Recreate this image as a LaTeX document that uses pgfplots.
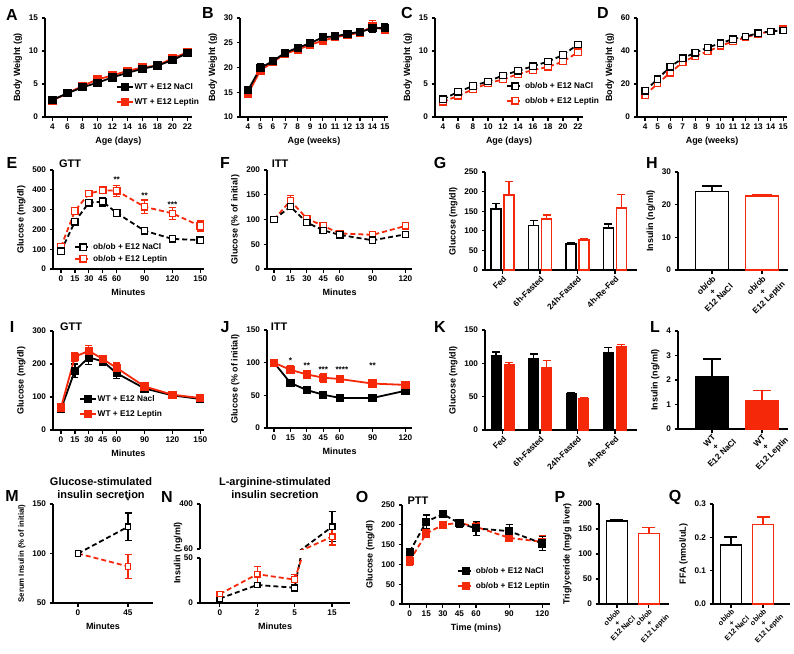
\documentclass[border=0pt]{standalone}
\usepackage{pgfplots}
\pgfplotsset{compat=1.18}
\usepackage{fontspec}
\setmainfont{Liberation Sans}
\definecolor{pr}{RGB}{245,40,10}
\newcommand\tfont{\fontsize{8.2}{9}\selectfont\bfseries}
\newcommand\rfont{\fontsize{8.3}{8.8}\selectfont\bfseries}
\newcommand\sfont{\fontsize{7.2}{7.8}\selectfont\bfseries}
\newcommand\lfont{\fontsize{9}{10}\selectfont\bfseries}
\newcommand\legfont{\fontsize{8.3}{9}\selectfont\bfseries}
\newcommand\letfont{\fontsize{16}{18}\selectfont\bfseries}
\newcommand\titfont{\fontsize{11}{12.5}\selectfont\bfseries}
\newlength\rlw
\newcommand\rl[3]{\settowidth\rlw{#1}\makebox[\rlw]{#1}\\\makebox[\rlw]{#2}\\\makebox[\rlw]{#3}}
\pgfplotsset{
 prism/.style={scale only axis, anchor=south west, enlargelimits=false,
   axis x line*=bottom, axis y line*=left, axis line style={line width=1.5pt,-},
   every tick/.style={line width=1.2pt,black}, tick align=outside, major tick length=3.5pt,
   tick label style={font=\tfont}, label style={font=\lfont}, clip=false, scaled ticks=false,
   /pgf/number format/assume math mode=true, /pgf/number format/1000 sep={},
   legend cell align=left,
   legend style={draw=none, fill=none, font=\legfont, inner sep=0pt, row sep=5pt, anchor=north west, nodes={inner sep=1pt}},
   legend image code/.code={\draw[mark repeat=2,mark phase=2,##1] plot coordinates {(0pt,0pt) (8pt,0pt) (16pt,0pt)};}},
 ls/.style={#1, line width=1.8pt, mark=square*, mark size=3.2pt, mark options={solid, fill=#1}},
 ld/.style={#1, line width=1.8pt, dash pattern=on 5pt off 3pt, mark=square*, mark size=3.2pt, mark options={solid, fill=white, line width=1.3pt}},
 eb/.style={error bars/.cd, y dir=both, y explicit, error bar style={line width=1.2pt, solid, #1}, error mark options={rotate=90, mark size=3.5pt, line width=1.2pt, solid, #1}},
 ebar/.style 2 args={error bars/.cd, y dir=plus, y explicit, error bar style={line width=1.4pt, solid, #1}, error mark options={rotate=90, mark size=#2, line width=1.4pt, solid, #1}},
 rotlab/.style={xticklabel style={rotate=45, anchor=north east, align=center, inner sep=1pt, font=\rfont}},
 rotlabs/.style={xticklabel style={rotate=45, anchor=north east, align=center, inner sep=0.5pt, font=\sfont}},
}
\begin{document}
\begin{tikzpicture}
\useasboundingbox (0pt,0pt) rectangle (794pt,-653pt);
% ---------------- A
\begin{axis}[prism, at={(45pt,-117pt)}, width=147pt, height=99pt, xmin=3, xmax=22.6, ymin=0, ymax=15,
  xtick={4,6,...,22}, ytick={0,5,10,15}, xlabel={Age (days)}, ylabel={Body Weight (g)},
  legend style={at={(0.48,0.35)}}, reverse legend]
\addplot[ls=pr, eb=pr] coordinates {(4,2.5)+-(0,0.2) (6,3.6)+-(0,0.2) (8,4.7)+-(0,0.3) (10,5.7)+-(0,0.3) (12,6.3)+-(0,0.3) (14,7.0)+-(0,0.3) (16,7.5)+-(0,0.3) (18,7.8)+-(0,0.3) (20,8.9)+-(0,0.3) (22,9.8)+-(0,0.3)};
\addlegendentry{WT + E12 Leptin}
\addplot[ls=black, eb=black] coordinates {(4,2.6)+-(0,0.2) (6,3.6)+-(0,0.2) (8,4.5)+-(0,0.3) (10,5.2)+-(0,0.3) (12,6.0)+-(0,0.3) (14,6.7)+-(0,0.3) (16,7.3)+-(0,0.3) (18,7.8)+-(0,0.3) (20,8.6)+-(0,0.3) (22,9.7)+-(0,0.4)};
\addlegendentry{WT + E12 NaCl}
\end{axis}
% ---------------- B
\begin{axis}[prism, at={(240pt,-117pt)}, width=148pt, height=99pt, xmin=3.36, xmax=15.25, ymin=10, ymax=30,
  xtick={4,...,15}, ytick={10,15,20,25,30}, xlabel={Age (weeks)}, ylabel={Body Weight (g)}]
\addplot[ls=pr, eb=pr] coordinates {(4,14.7)+-(0,0.5) (5,19.4)+-(0,0.8) (6,21.1)+-(0,0.7) (7,22.8)+-(0,0.5) (8,23.6)+-(0,0.5) (9,24.6)+-(0,0.5) (10,25.4)+-(0,0.6) (11,26.1)+-(0,0.5) (12,26.6)+-(0,0.6) (13,27.0)+-(0,0.6) (14,28.3)+-(0,1.2) (15,27.6)+-(0,0.5)};
\addplot[ls=black, eb=black] coordinates {(4,15.4)+-(0,0.7) (5,19.9)+-(0,0.8) (6,21.3)+-(0,0.8) (7,23.0)+-(0,0.5) (8,24.0)+-(0,0.5) (9,24.9)+-(0,0.6) (10,26.1)+-(0,0.8) (11,26.3)+-(0,0.5) (12,26.8)+-(0,0.6) (13,27.2)+-(0,0.7) (14,27.9)+-(0,0.9) (15,28.0)+-(0,0.8)};
\end{axis}
% ---------------- C
\begin{axis}[prism, at={(435pt,-117pt)}, width=148pt, height=99pt, xmin=2.93, xmax=22.67, ymin=0, ymax=15,
  xtick={4,6,...,22}, ytick={0,5,10,15}, xlabel={Age (days)}, ylabel={Body Weight (g)},
  legend style={at={(0.48,0.36)}}, reverse legend]
\addplot[ld=pr, eb=pr] coordinates {(4,2.3)+-(0,0.2) (6,3.2)+-(0,0.2) (8,4.2)+-(0,0.2) (10,5.1)+-(0,0.2) (12,5.7)+-(0,0.2) (14,6.5)+-(0,0.2) (16,7.1)+-(0,0.2) (18,7.6)+-(0,0.2) (20,8.4)+-(0,0.3) (22,9.8)+-(0,0.3)};
\addlegendentry{ob/ob + E12 Leptin}
\addplot[ld=black, eb=black] coordinates {(4,2.7)+-(0,0.2) (6,3.8)+-(0,0.2) (8,4.7)+-(0,0.2) (10,5.4)+-(0,0.2) (12,6.3)+-(0,0.2) (14,7.0)+-(0,0.2) (16,7.7)+-(0,0.2) (18,8.4)+-(0,0.3) (20,9.4)+-(0,0.3) (22,11.0)+-(0,0.4)};
\addlegendentry{ob/ob + E12 NaCl}
\end{axis}
% ---------------- D
\begin{axis}[prism, at={(637pt,-117pt)}, width=150pt, height=99pt, xmin=3.36, xmax=15.3, ymin=0, ymax=60,
  xtick={4,...,15}, ytick={0,20,40,60}, xlabel={Age (weeks)}, ylabel={Body Weight (g)}]
\addplot[ld=pr, eb=pr] coordinates {(4,13.2)+-(0,1.2) (5,20.3)+-(0,1.2) (6,26.8)+-(0,1.2) (7,33.2)+-(0,1.2) (8,37.0)+-(0,1.2) (9,39.7)+-(0,1.2) (10,43.1)+-(0,1.2) (11,45.8)+-(0,1.2) (12,48.2)+-(0,1.2) (13,50.4)+-(0,1.2) (14,51.9)+-(0,1.2) (15,53.3)+-(0,1.2)};
\addplot[ld=black, eb=black] coordinates {(4,15.9)+-(0,1.5) (5,23.0)+-(0,1.5) (6,30.5)+-(0,1.5) (7,35.6)+-(0,1.2) (8,39.0)+-(0,1.2) (9,42.1)+-(0,1.2) (10,44.7)+-(0,1.2) (11,47.2)+-(0,1.2) (12,48.8)+-(0,1.2) (13,50.8)+-(0,1.2) (14,51.9)+-(0,1.2) (15,52.5)+-(0,1.2)};
\end{axis}
% ---------------- E
\begin{axis}[prism, at={(53pt,-269pt)}, width=151pt, height=99pt, xmin=-8.6, xmax=154, ymin=0, ymax=500,
  xtick={0,15,30,45,60,90,120,150}, ytick={0,100,...,500}, xlabel={Minutes}, ylabel={Glucose (mg/dl)},
  legend style={at={(0.14,0.27)}, row sep=2pt}, reverse legend]
\addplot[ld=pr, eb=pr] coordinates {(0,112)+-(0,8) (15,293)+-(0,18) (30,381)+-(0,10) (45,398)+-(0,10) (60,395)+-(0,28) (90,314)+-(0,35) (120,281)+-(0,30) (150,217)+-(0,25)};
\addlegendentry{ob/ob + E12 Leptin}
\addplot[ld=black, eb=black] coordinates {(0,90)+-(0,10) (15,239)+-(0,15) (30,335)+-(0,18) (45,340)+-(0,22) (60,283)+-(0,12) (90,193)+-(0,15) (120,152)+-(0,12) (150,146)+-(0,10)};
\addlegendentry{ob/ob + E12 NaCl}
\node[font=\tfont] at (axis cs:60,452) {**};
\node[font=\tfont] at (axis cs:90,371) {**};
\node[font=\tfont] at (axis cs:120,325) {***};
\end{axis}
% ---------------- F
\begin{axis}[prism, at={(267pt,-269pt)}, width=145pt, height=99pt, xmin=-6.4, xmax=126, ymin=0, ymax=200,
  xtick={0,15,30,45,60,90,120}, ytick={0,50,...,200}, xlabel={Minutes}, ylabel={Glucose (\% of initial)}]
\addplot[ld=pr, eb=pr] coordinates {(0,100)+-(0,2) (15,138)+-(0,10) (30,102)+-(0,5) (45,87)+-(0,5) (60,72)+-(0,4) (90,69)+-(0,6) (120,87)+-(0,5)};
\addplot[ld=black, eb=black] coordinates {(0,100)+-(0,2) (15,126)+-(0,6) (30,94)+-(0,6) (45,78)+-(0,6) (60,69)+-(0,4) (90,58)+-(0,5) (120,70)+-(0,5)};
\end{axis}
% ---------------- G
\begin{axis}[prism, rotlab, at={(485pt,-270pt)}, width=152pt, height=98pt, xmin=-0.47, xmax=3.59, ymin=0, ymax=250,
  xtick={0,1,2,3}, xticklabels={Fed,6h-Fasted,24h-Fasted,4h-Re-Fed}, ytick={0,50,...,250}, ylabel={Glucose (mg/dl)}]
\addplot[ybar, bar width=10pt, bar shift=0pt, draw=black, fill=white, line width=1.5pt, ebar={black}{4pt}] coordinates {(-0.173,155)+-(0,15) (0.827,114)+-(0,12) (1.827,66)+-(0,4) (2.827,107)+-(0,10)};
\addplot[ybar, bar width=10pt, bar shift=0pt, draw=pr, fill=white, line width=1.5pt, ebar={pr}{4pt}] coordinates {(0.173,191)+-(0,35) (1.173,130)+-(0,10) (2.173,76)+-(0,4) (3.173,158)+-(0,34)};
\end{axis}
% ---------------- H
\begin{axis}[prism, rotlab, at={(678pt,-270pt)}, width=110pt, height=98pt, xmin=-0.68, xmax=1.52, ymin=0, ymax=30,
  xtick={0,1}, xticklabels={{\rl{ob/ob}{+}{E12 NaCl}},{\rl{ob/ob}{+}{E12 Leptin}}}, ytick={0,10,20,30}, ylabel={Insulin (ng/ml)}]
\addplot[ybar, bar width=33pt, bar shift=0pt, draw=black, fill=white, line width=1.5pt, ebar={black}{10pt}] coordinates {(0,24.1)+-(0,1.6)};
\addplot[ybar, bar width=33pt, bar shift=0pt, draw=pr, fill=white, line width=1.5pt, ebar={pr}{10pt}] coordinates {(1,22.6)+-(0,0.6)};
\end{axis}
% ---------------- I
\begin{axis}[prism, at={(53pt,-430pt)}, width=151pt, height=99pt, xmin=-8.6, xmax=154, ymin=0, ymax=300,
  xtick={0,15,30,45,60,90,120,150}, ytick={0,100,200,300}, xlabel={Minutes}, ylabel={Glucose (mg/dl)},
  legend style={at={(0.17,0.36)}}]
\addplot[ls=black, eb=black] coordinates {(0,63)+-(0,4) (15,180)+-(0,20) (30,220)+-(0,22) (45,208)+-(0,13) (60,172)+-(0,16) (90,126)+-(0,8) (120,105)+-(0,6) (150,94)+-(0,6)};
\addlegendentry{WT + E12 Nacl}
\addplot[ls=pr, eb=pr] coordinates {(0,68)+-(0,4) (15,222)+-(0,13) (30,240)+-(0,16) (45,215)+-(0,10) (60,188)+-(0,15) (90,132)+-(0,6) (120,107)+-(0,5) (150,97)+-(0,6)};
\addlegendentry{WT + E12 Leptin}
\end{axis}
% ---------------- J
\begin{axis}[prism, at={(267pt,-428pt)}, width=145pt, height=98pt, xmin=-6.4, xmax=126, ymin=0, ymax=150,
  xtick={0,15,30,45,60,90,120}, ytick={0,50,100,150}, xlabel={Minutes}, ylabel={Glucose (\% of initial)}]
\addplot[ls=black, eb=black] coordinates {(0,100)+-(0,1) (15,69)+-(0,5) (30,58)+-(0,3) (45,51)+-(0,3) (60,46)+-(0,3) (90,46)+-(0,2) (120,57)+-(0,3)};
\addplot[ls=pr, eb=pr] coordinates {(0,100)+-(0,1) (15,89)+-(0,6) (30,82)+-(0,6) (45,77)+-(0,7) (60,75)+-(0,4) (90,68)+-(0,5) (120,66)+-(0,3)};
\node[font=\tfont] at (axis cs:15,103) {*};
\node[font=\tfont] at (axis cs:30,95) {**};
\node[font=\tfont] at (axis cs:45,90) {***};
\node[font=\tfont] at (axis cs:62,90) {****};
\node[font=\tfont] at (axis cs:90,95) {**};
\end{axis}
% ---------------- K
\begin{axis}[prism, rotlab, at={(485pt,-430pt)}, width=152pt, height=100pt, xmin=-0.47, xmax=3.59, ymin=0, ymax=150,
  xtick={0,1,2,3}, xticklabels={Fed,6h-Fasted,24h-Fasted,4h-Re-Fed}, ytick={0,50,100,150}, ylabel={Glucose (mg/dl)}]
\addplot[ybar, bar width=10pt, bar shift=0pt, draw=black, fill=black, line width=1pt, ebar={black}{4pt}] coordinates {(-0.173,112)+-(0,5) (0.827,108)+-(0,6) (1.827,55)+-(0,1) (2.827,116)+-(0,8)};
\addplot[ybar, bar width=10pt, bar shift=0pt, draw=pr, fill=pr, line width=1pt, ebar={pr}{4pt}] coordinates {(0.173,98)+-(0,3) (1.173,94)+-(0,10) (2.173,47)+-(0,1.5) (3.173,125)+-(0,3)};
\end{axis}
% ---------------- L
\begin{axis}[prism, rotlab, at={(678pt,-429pt)}, width=110pt, height=98pt, xmin=-0.68, xmax=1.52, ymin=0, ymax=4,
  xtick={0,1}, xticklabels={{\rl{WT}{+}{E12 NaCl}},{\rl{WT}{+}{E12 Leptin}}}, ytick={0,1,2,3,4}, ylabel={Insulin (ng/ml)}]
\addplot[ybar, bar width=33pt, bar shift=0pt, draw=black, fill=black, line width=1pt, ebar={black}{9pt}] coordinates {(0,2.15)+-(0,0.7)};
\addplot[ybar, bar width=33pt, bar shift=0pt, draw=pr, fill=pr, line width=1pt, ebar={pr}{9pt}] coordinates {(1,1.15)+-(0,0.42)};
\end{axis}
% ---------------- M
\begin{axis}[prism, at={(53pt,-603pt)}, width=100pt, height=99pt, xmin=-0.5, xmax=1.5, ymin=50, ymax=150,
  xtick={0,1}, xticklabels={0,45}, ytick={50,100,150}, xlabel={Minutes}, ylabel={Serum Insulin (\% of initial)},
  ylabel style={font=\fontsize{7.8}{9}\selectfont\bfseries}]
\addplot[ld=pr, mark size=2.8pt, eb=pr] coordinates {(0,100)+-(0,1) (1,87)+-(0,12)};
\addplot[ld=black, mark size=2.8pt, eb=black] coordinates {(0,100)+-(0,1) (1,127)+-(0,14)};
\node[font=\tfont] at (axis cs:1,153) {*};
\end{axis}
% ---------------- N lower
\begin{axis}[prism, clip=true, at={(200pt,-603pt)}, width=150pt, height=45pt, xmin=-0.53, xmax=3.48, ymin=0, ymax=50,
  xtick={0,1,2,3}, xticklabels={0,2,5,15}, ytick={0,50}, xlabel={Minutes}]
\addplot[ld=black, mark size=2.8pt, eb=black] coordinates {(0,5)+-(0,2) (1,20)+-(0,2) (2,17)+-(0,4) (3,228)+-(0,113)};
\addplot[ld=pr, mark size=2.8pt, eb=pr] coordinates {(0,10)+-(0,3) (1,32)+-(0,9) (2,26)+-(0,6) (3,153)+-(0,63)};
\end{axis}
% ---------------- N upper
\begin{axis}[prism, clip=true, at={(200pt,-549pt)}, width=150pt, height=45pt, xmin=-0.53, xmax=3.48, ymin=60, ymax=400,
  axis x line=none, ytick={60,400}]
\addplot[ld=black, mark size=2.8pt, eb=black] coordinates {(0,5)+-(0,2) (1,20)+-(0,2) (2,17)+-(0,4) (3,228)+-(0,113)};
\addplot[ld=pr, mark size=2.8pt, eb=pr] coordinates {(0,10)+-(0,3) (1,32)+-(0,9) (2,26)+-(0,6) (3,153)+-(0,63)};
\end{axis}
% ---------------- O
\begin{axis}[prism, at={(402pt,-604pt)}, width=148pt, height=99pt, xmin=-7, xmax=127, ymin=0, ymax=250,
  xtick={0,15,30,45,60,90,120}, ytick={0,50,...,250}, xlabel={Time (mins)}, ylabel={Glucose (mg/dl)},
  legend style={at={(0.37,0.38)}}, reverse legend]
\addplot[ls=pr, dash pattern=on 5pt off 3pt, eb=pr] coordinates {(0,109)+-(0,12) (15,178)+-(0,10) (30,200)+-(0,8) (45,205)+-(0,5) (60,195)+-(0,12) (90,167)+-(0,10) (120,157)+-(0,15)};
\addlegendentry{ob/ob + E12 Leptin}
\addplot[ls=black, dash pattern=on 5pt off 3pt, eb=black] coordinates {(0,132)+-(0,8) (15,208)+-(0,17) (30,227)+-(0,9) (45,204)+-(0,10) (60,191)+-(0,17) (90,184)+-(0,17) (120,153)+-(0,18)};
\addlegendentry{ob/ob + E12 NaCl}
\end{axis}
% ---------------- P
\begin{axis}[prism, rotlabs, at={(599pt,-604pt)}, width=70pt, height=100pt, xmin=-0.56, xmax=1.63, ymin=0, ymax=200,
  xtick={0,1}, xticklabels={{\rl{ob/ob}{+}{E12 NaCl}},{\rl{ob/ob}{+}{E12 Leptin}}}, ytick={0,50,...,200}, ylabel={Triglyceride (mg/g liver)}]
\addplot[ybar, bar width=21pt, bar shift=0pt, draw=black, fill=white, line width=1.5pt, ebar={black}{6.5pt}] coordinates {(0,166)+-(0,2)};
\addplot[ybar, bar width=21pt, bar shift=0pt, draw=pr, fill=white, line width=1.5pt, ebar={pr}{6.5pt}] coordinates {(1,141)+-(0,12)};
\end{axis}
% ---------------- Q
\begin{axis}[prism, rotlabs, at={(713pt,-604pt)}, width=77pt, height=100pt, xmin=-0.56, xmax=1.84, ymin=0, ymax=0.3,
  xtick={0,1}, xticklabels={{\rl{ob/ob}{+}{E12 NaCl}},{\rl{ob/ob}{+}{E12 Leptin}}}, ytick={0,0.1,0.2,0.3},
  yticklabel style={/pgf/number format/fixed, /pgf/number format/precision=1, /pgf/number format/fixed zerofill},
  ylabel={FFA (nmol/uL)}]
\addplot[ybar, bar width=21pt, bar shift=0pt, draw=black, fill=white, line width=1.5pt, ebar={black}{6.5pt}] coordinates {(0,0.177)+-(0,0.024)};
\addplot[ybar, bar width=21pt, bar shift=0pt, draw=pr, fill=white, line width=1.5pt, ebar={pr}{6.5pt}] coordinates {(1,0.239)+-(0,0.022)};
\end{axis}
% ---------------- free text
\begin{scope}[every node/.style={font=\letfont}]
\node at (12pt,-15pt) {A}; \node at (208pt,-13pt) {B}; \node at (407pt,-13pt) {C}; \node at (603pt,-13pt) {D};
\node at (12pt,-163pt) {E}; \node at (225pt,-163pt) {F}; \node at (440pt,-163pt) {G}; \node at (652pt,-163pt) {H};
\node at (12pt,-327pt) {I}; \node at (225pt,-327pt) {J}; \node at (440pt,-327pt) {K}; \node at (655pt,-327pt) {L};
\node at (12pt,-496pt) {M}; \node at (167pt,-497pt) {N}; \node at (362pt,-497pt) {O}; \node at (560pt,-497pt) {P}; \node at (675pt,-497pt) {Q};
\end{scope}
\begin{scope}[every node/.style={font=\titfont}]
\node at (70pt,-164pt) {GTT}; \node at (280pt,-164pt) {ITT};
\node at (71pt,-327pt) {GTT}; \node at (279pt,-327pt) {ITT};
\node[align=center] at (101pt,-488pt) {Glucose-stimulated\\insulin secretion};
\node[align=center] at (275pt,-488pt) {L-arginine-stimulated\\insulin secretion};
\node at (418pt,-501pt) {PTT};
\end{scope}
\node[font=\lfont, rotate=90] at (178pt,-553pt) {Insulin (ng/ml)};
\end{tikzpicture}
\end{document}
